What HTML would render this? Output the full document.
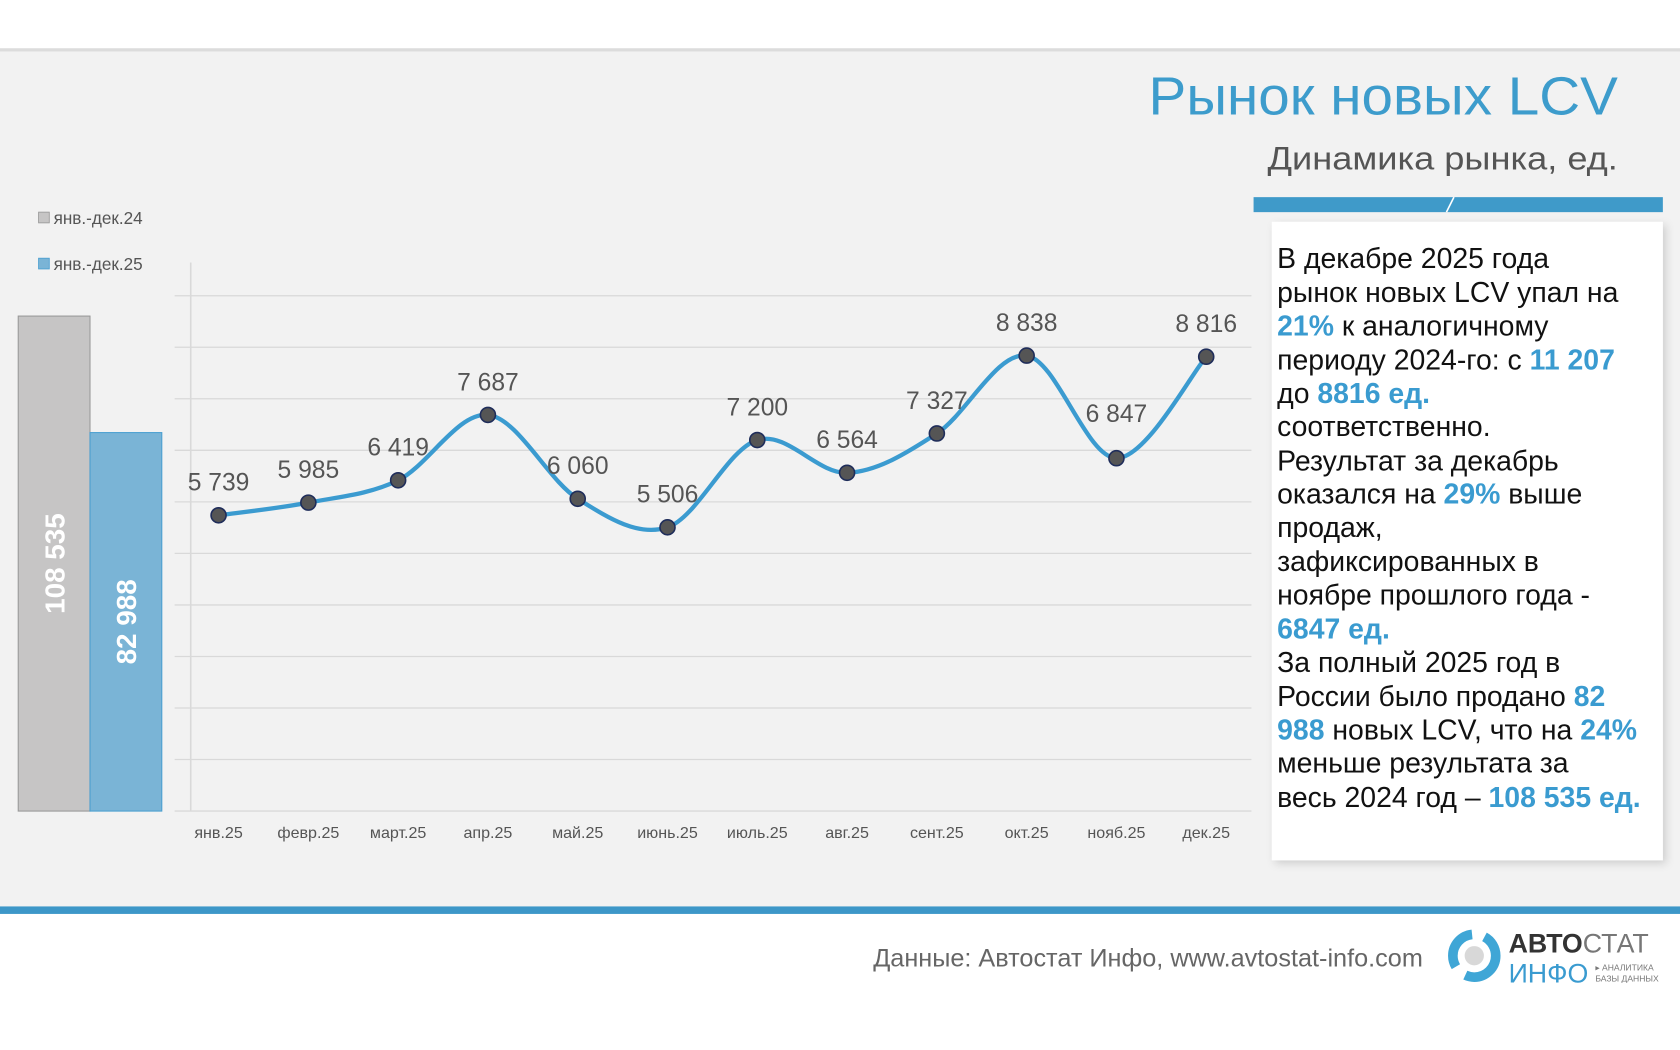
<!DOCTYPE html>
<html><head><meta charset="utf-8">
<style>
html,body{margin:0;padding:0;width:1680px;height:1050px;overflow:hidden;background:#fff;}
svg{display:block;font-family:"Liberation Sans","DejaVu Sans",sans-serif;}
.b{fill:#3a9bd0;font-weight:bold;}
</style></head>
<body>
<svg id="chart" width="1680" height="1050" viewBox="0 0 1568 980">
  <defs>
    <filter id="sh" x="-5%" y="-5%" width="115%" height="115%"><feDropShadow dx="3" dy="3" stdDeviation="4" flood-color="#000" flood-opacity="0.15"/></filter>
  </defs>
  <rect x="0" y="0" width="1568" height="980" fill="#fff"/>
  <rect x="0" y="47" width="1568" height="799" fill="#f2f2f2"/>
  <rect x="0" y="45" width="1568" height="3" fill="#dcdcdc"/>
  <rect x="0" y="846" width="1568" height="7" fill="#3d97c8"/>

  <text x="1510" y="107" text-anchor="end" font-size="50" fill="#3d9ccc" textLength="438" lengthAdjust="spacingAndGlyphs">Рынок новых LCV</text>
  <text x="1510" y="158" text-anchor="end" font-size="30" fill="#555" textLength="327" lengthAdjust="spacingAndGlyphs">Динамика рынка, ед.</text>

  <rect x="1170" y="184" width="382" height="14" fill="#3f9ac9"/>
  <line x1="1357" y1="184" x2="1350" y2="198" stroke="#fff" stroke-width="1.5"/>
  <rect x="1187" y="207" width="365" height="596" fill="#fff" filter="url(#sh)"/>
  <g font-size="26.5" fill="#111">
    <text x="1192" y="250">В декабре 2025 года</text>
    <text x="1192" y="282">рынок новых LCV упал на</text>
    <text x="1192" y="313"><tspan class="b">21%</tspan> к аналогичному</text>
    <text x="1192" y="345">периоду 2024-го: с <tspan class="b">11 207</tspan></text>
    <text x="1192" y="376">до <tspan class="b">8816 ед.</tspan></text>
    <text x="1192" y="407">соответственно.</text>
    <text x="1192" y="439">Результат за декабрь</text>
    <text x="1192" y="470">оказался на <tspan class="b">29%</tspan> выше</text>
    <text x="1192" y="501">продаж,</text>
    <text x="1192" y="533">зафиксированных в</text>
    <text x="1192" y="564">ноябре прошлого года  -</text>
    <text x="1192" y="596"><tspan class="b">6847 ед.</tspan></text>
    <text x="1192" y="627">За полный 2025 год в</text>
    <text x="1192" y="659">России было продано <tspan class="b">82</tspan></text>
    <text x="1192" y="690"><tspan class="b">988</tspan> новых LCV, что на <tspan class="b">24%</tspan></text>
    <text x="1192" y="721">меньше результата за</text>
    <text x="1192" y="753">весь 2024 год – <tspan class="b">108 535 ед.</tspan></text>
  </g>

  <!-- legend -->
  <rect x="36" y="198" width="10" height="10" fill="#c6c5c5" stroke="#999" stroke-width="0.8"/>
  <text x="50" y="209" font-size="16" fill="#555">янв.-дек.24</text>
  <rect x="36" y="241" width="10" height="10" fill="#7ab4d6" stroke="#4a9fd0" stroke-width="0.8"/>
  <text x="50" y="252" font-size="16" fill="#555">янв.-дек.25</text>

  <g id="totals"></g>
  <g id="grid"></g>
  <g id="lineg"></g>

  <!-- footer -->
  <text x="1328" y="902" text-anchor="end" font-size="23" fill="#666" textLength="513" lengthAdjust="spacingAndGlyphs">Данные: Автостат Инфо, www.avtostat-info.com</text>
  <g>
    <circle cx="1376" cy="892" r="20" fill="none" stroke="#3fa6d6" stroke-width="9" stroke-dasharray="40 12"/>
    <circle cx="1376" cy="892" r="9" fill="#d8d8d8"/>
    <text x="1408" y="889" font-size="25" font-weight="bold" fill="#333">АВТО<tspan font-weight="normal" fill="#777">СТАТ</tspan></text>
    <text x="1408" y="917" font-size="25" fill="#3a9bd0">ИНФО</text>
    <text x="1489" y="906" font-size="8" fill="#777">▸ АНАЛИТИКА</text>
    <text x="1489" y="916" font-size="8" fill="#777">БАЗЫ ДАННЫХ</text>
  </g>
</svg>
<script>
const totalLabels = ["108 535", "82 988"];
const totalValues = [108535, 82988];
const months = ["янв.25","февр.25","март.25","апр.25","май.25","июнь.25","июль.25","авг.25","сент.25","окт.25","нояб.25","дек.25"];
const sales = [5739, 5985, 6419, 7687, 6060, 5506, 7200, 6564, 7327, 8838, 6847, 8816];
const salesLabels = ["5 739","5 985","6 419","7 687","6 060","5 506","7 200","6 564","7 327","8 838","6 847","8 816"];
const gridTicks = [0,1000,2000,3000,4000,5000,6000,7000,8000,9000,10000];

const NS = "http://www.w3.org/2000/svg";
function mk(tag, attrs, parent){const e=document.createElementNS(NS,tag);for(const k in attrs)e.setAttribute(k,attrs[k]);parent.appendChild(e);return e;}

// totals bars
const barBase = 757, barScale = 462/108535;
const by = v => barBase - v*barScale;
const totG = document.getElementById('totals');
const barX = [17, 84], barFill = ["#c6c5c5","#7ab4d6"], barStroke=["#999","#4a9fd0"];
totalValues.forEach((v,i)=>{
  const r = mk('rect',{x:barX[i],y:by(v),width:67,height:barBase-by(v),fill:barFill[i],stroke:barStroke[i],'stroke-width':1},totG);
  
  
  const cx = barX[i]+34, cy = (by(v)+barBase)/2;
  const t = mk('text',{x:cx,y:cy+9,'text-anchor':'middle','font-size':26,'font-weight':'bold',fill:'#fff',transform:`rotate(-90 ${cx} ${cy})`},totG);
  t.textContent = totalLabels[i];
  
  
});

// line chart axes
const y0 = 757, yScale = 481/10000;
const yv = v => y0 - v*yScale;
const xv = i => 204 + i*83.8;
const gG = document.getElementById('grid');
gridTicks.forEach(t=>{
  const l = mk('line',{x1:163,x2:1168,y1:yv(t),y2:yv(t),stroke:'#d9d9d9','stroke-width':1.2},gG);
  
  
});
const ax = mk('line',{x1:178,x2:178,y1:245,y2:757,stroke:'#d9d9d9','stroke-width':1.5},gG);


months.forEach((m,i)=>{
  const t = mk('text',{x:xv(i),y:782,'text-anchor':'middle','font-size':15,fill:'#555'},gG);
  t.textContent = m;
  
  
});

// smooth line
const pts = sales.map((v,i)=>[xv(i),yv(v)]);
let d = `M${pts[0][0]},${pts[0][1]}`;
for(let i=0;i<pts.length-1;i++){
  const p0=pts[Math.max(0,i-1)],p1=pts[i],p2=pts[i+1],p3=pts[Math.min(pts.length-1,i+2)];
  const c1=[p1[0]+(p2[0]-p0[0])/6,p1[1]+(p2[1]-p0[1])/6];
  const c2=[p2[0]-(p3[0]-p1[0])/6,p2[1]-(p3[1]-p1[1])/6];
  d+=` C${c1[0]},${c1[1]} ${c2[0]},${c2[1]} ${p2[0]},${p2[1]}`;
}
const lG = document.getElementById('lineg');
const path = mk('path',{d:d,fill:'none',stroke:'#3b9bd0','stroke-width':4},lG);


pts.forEach((p,i)=>{
  const c = mk('circle',{cx:p[0],cy:p[1],r:7,fill:'#555','stroke':'#1f2d5a','stroke-width':1.5},lG);
  
  
  const off = i===10 ? 42 : 31;
  const t = mk('text',{x:p[0],y:p[1]-off+8,'text-anchor':'middle','font-size':23,fill:'#555'},lG);
  t.textContent = salesLabels[i];
  
  
});
</script>
</body></html>
